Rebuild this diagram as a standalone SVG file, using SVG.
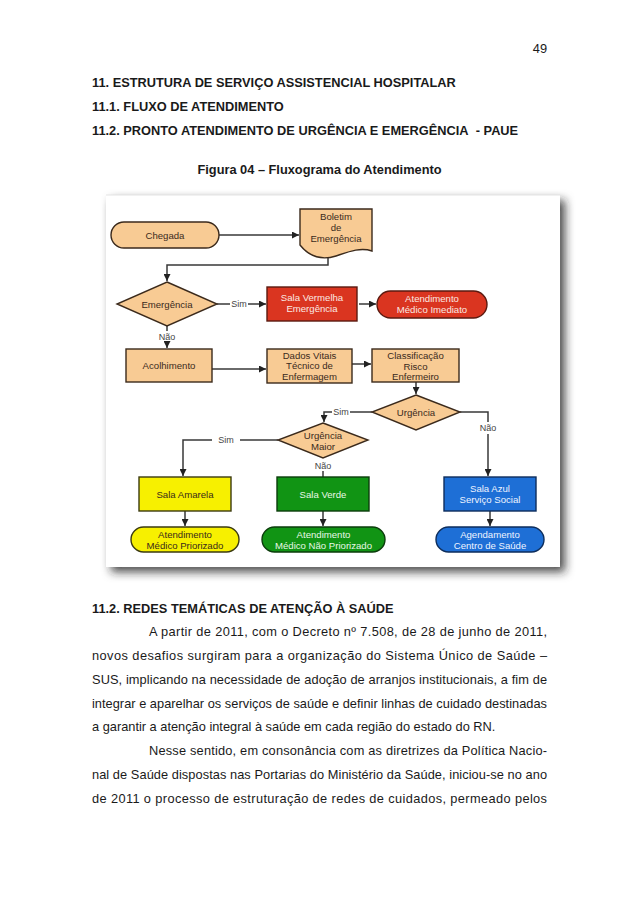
<svg xmlns="http://www.w3.org/2000/svg" width="638" height="903" viewBox="0 0 638 903">
<style>
.pg{font-family:"Liberation Sans",Arial,sans-serif;font-size:12.8px;fill:#1a1a1a}
.b{font-weight:bold}
.fc{font-family:"Liberation Sans",Arial,sans-serif;font-size:9.6px;text-anchor:middle;fill:#3a2a1c}
.lbl{font-family:"Liberation Sans",Arial,sans-serif;font-size:9px;text-anchor:middle;fill:#444}
.beige{fill:#F8CB94;stroke:#3b2a1c;stroke-width:1.4}
.red{fill:#DA3520;stroke:#5a1a10;stroke-width:1.4}
.yel{fill:#F7F000;stroke:#3b3a10;stroke-width:1.4}
.grn{fill:#119414;stroke:#0b3d0b;stroke-width:1.4}
.blu{fill:#1E6FD6;stroke:#0d2d5c;stroke-width:1.4}
.wt{fill:#fbe9e2}
.gt{fill:#e8f7e6}
.bt{fill:#eef4ff}
.con{fill:none;stroke:#383838;stroke-width:1.5}
</style>
<defs>
<marker id="ah" markerUnits="userSpaceOnUse" markerWidth="8" markerHeight="7" refX="7" refY="3.5" orient="auto">
<path d="M0,0 L7,3.5 L0,7 Z" fill="#222"/>
</marker>
<filter id="sh" x="-10%" y="-10%" width="125%" height="125%">
<feDropShadow dx="5" dy="5" stdDeviation="5" flood-color="#222" flood-opacity="0.8"/>
</filter>
</defs>
<rect width="638" height="903" fill="#ffffff"/>

<!-- page text -->
<text class="pg" x="547" y="53" text-anchor="end">49</text>
<text class="pg b" x="92" y="87">11. ESTRUTURA DE SERVIÇO ASSISTENCIAL HOSPITALAR</text>
<text class="pg b" x="92" y="111">11.1. FLUXO DE ATENDIMENTO</text>
<text class="pg b" x="92" y="135">11.2. PRONTO ATENDIMENTO DE URGÊNCIA E EMERGÊNCIA&#160; - PAUE</text>
<text class="pg b" x="319.5" y="174" text-anchor="middle">Figura 04 – Fluxograma do Atendimento</text>

<!-- figure frame -->
<rect x="106" y="195" width="454" height="372" fill="#ffffff" filter="url(#sh)"/>
<line x1="106" y1="195" x2="560" y2="195" stroke="#e4e4e4" stroke-width="1"/>

<!-- connectors -->
<g id="connectors">
<path class="con" d="M219,235 H299" marker-end="url(#ah)"/>
<path class="con" d="M328,256 V265 H167 V281" marker-end="url(#ah)"/>
<path class="con" d="M217,304 H230"/>
<path class="con" d="M248,304 H266" marker-end="url(#ah)"/>
<path class="con" d="M359,304 H376" marker-end="url(#ah)"/>
<path class="con" d="M167,326 V331"/>
<path class="con" d="M167,342 V348" marker-end="url(#ah)"/>
<path class="con" d="M212,369 H266" marker-end="url(#ah)"/>
<path class="con" d="M352,364 H371" marker-end="url(#ah)"/>
<path class="con" d="M416,382 V394" marker-end="url(#ah)"/>
<path class="con" d="M372,412 H350"/>
<path class="con" d="M332,412 H324 V422" marker-end="url(#ah)"/>
<path class="con" d="M460,412 H488 V422"/>
<path class="con" d="M488,434 V476" marker-end="url(#ah)"/>
<path class="con" d="M278,440 H240"/>
<path class="con" d="M212,440 H183 V476" marker-end="url(#ah)"/>
<path class="con" d="M323,471 V477"/>
<path class="con" d="M185,511 V526" marker-end="url(#ah)"/>
<path class="con" d="M323,511 V526" marker-end="url(#ah)"/>
<path class="con" d="M490,511 V526" marker-end="url(#ah)"/>
<text class="lbl" x="239" y="307">Sim</text>
<text class="lbl" x="167" y="340">Não</text>
<text class="lbl" x="341" y="415">Sim</text>
<text class="lbl" x="488" y="431">Não</text>
<text class="lbl" x="226" y="443">Sim</text>
<text class="lbl" x="323" y="469">Não</text>
</g>

<!-- nodes -->
<g id="chegada">
<rect class="beige" x="111" y="222" width="108" height="26" rx="13"/>
<text class="fc" x="165" y="238.5">Chegada</text>
</g>
<g id="boletim">
<path class="beige" d="M300,209 H372 V251 C360,247 348,252 336,256 C320,261 308,255 300,245 Z"/>
<text class="fc" x="336" y="220">Boletim</text>
<text class="fc" x="336" y="230.5">de</text>
<text class="fc" x="336" y="241.5">Emergência</text>
</g>
<g id="emergencia">
<polygon class="beige" points="167,282 217,304 167,326 117,304"/>
<text class="fc" x="167" y="307.5">Emergência</text>
</g>
<g id="sala-vermelha">
<rect class="red" x="267" y="287" width="90" height="34"/>
<text class="fc wt" x="312" y="301">Sala Vermelha</text>
<text class="fc wt" x="312" y="312">Emergência</text>
</g>
<g id="atend-imediato">
<rect class="red" x="377" y="291" width="110" height="27" rx="13.5"/>
<text class="fc wt" x="432" y="302">Atendimento</text>
<text class="fc wt" x="432" y="313">Médico Imediato</text>
</g>
<g id="acolhimento">
<rect class="beige" x="126" y="349" width="86" height="33"/>
<text class="fc" x="169" y="369">Acolhimento</text>
</g>
<g id="dados-vitais">
<rect class="beige" x="267" y="349" width="85" height="34"/>
<text class="fc" x="309.5" y="358.5">Dados Vitais</text>
<text class="fc" x="309.5" y="369">Técnico de</text>
<text class="fc" x="309.5" y="379.5">Enfermagem</text>
</g>
<g id="classificacao">
<rect class="beige" x="372" y="349" width="87" height="33"/>
<text class="fc" x="415.5" y="358.5">Classificação</text>
<text class="fc" x="415.5" y="369.5">Risco</text>
<text class="fc" x="415.5" y="380">Enfermeiro</text>
</g>
<g id="urgencia">
<polygon class="beige" points="416,395 460,412 416,430 372,412"/>
<text class="fc" x="416" y="415.5">Urgência</text>
</g>
<g id="urgencia-maior">
<polygon class="beige" points="323,423 368,440 323,458 278,440"/>
<text class="fc" x="323" y="439">Urgência</text>
<text class="fc" x="323" y="449.5">Maior</text>
</g>
<g id="sala-amarela">
<rect class="yel" x="139" y="477" width="92" height="34"/>
<text class="fc" x="185" y="497.5">Sala Amarela</text>
</g>
<g id="sala-verde">
<rect class="grn" x="277" y="477" width="92" height="34"/>
<text class="fc gt" x="323" y="497.5">Sala Verde</text>
</g>
<g id="sala-azul">
<rect class="blu" x="444" y="477" width="92" height="34"/>
<text class="fc bt" x="490" y="492">Sala Azul</text>
<text class="fc bt" x="490" y="502.5">Serviço Social</text>
</g>
<g id="atend-priorizado">
<rect class="yel" x="131" y="527" width="108" height="25" rx="12.5"/>
<text class="fc" x="185" y="538">Atendimento</text>
<text class="fc" x="185" y="549">Médico Priorizado</text>
</g>
<g id="atend-nao-priorizado">
<rect class="grn" x="262" y="527" width="123" height="25" rx="12.5"/>
<text class="fc gt" x="323.5" y="538">Atendimento</text>
<text class="fc gt" x="323.5" y="549">Médico Não Priorizado</text>
</g>
<g id="agendamento">
<rect class="blu" x="436" y="527" width="108" height="25" rx="12.5"/>
<text class="fc bt" x="490" y="538">Agendamento</text>
<text class="fc bt" x="490" y="549">Centro de Saúde</text>
</g>

<!-- section text -->
<text class="pg b" x="92" y="613">11.2. REDES TEMÁTICAS DE ATENÇÃO À SAÚDE</text>
<text class="pg" x="149" y="636" textLength="398" lengthAdjust="spacing">A partir de 2011, com o Decreto nº 7.508, de 28 de junho de 2011,</text>
<text class="pg" x="92" y="660" textLength="455" lengthAdjust="spacing">novos desafios surgiram para a organização do Sistema Único de Saúde –</text>
<text class="pg" x="92" y="684" textLength="455" lengthAdjust="spacing">SUS, implicando na necessidade de adoção de arranjos institucionais, a fim de</text>
<text class="pg" x="92" y="708" textLength="455" lengthAdjust="spacing">integrar e aparelhar os serviços de saúde e definir linhas de cuidado destinadas</text>
<text class="pg" x="92" y="731">a garantir a atenção integral à saúde em cada região do estado do RN.</text>
<text class="pg" x="149" y="755" textLength="398" lengthAdjust="spacing">Nesse sentido, em consonância com as diretrizes da Política Nacio-</text>
<text class="pg" x="92" y="779" textLength="455" lengthAdjust="spacing">nal de Saúde dispostas nas Portarias do Ministério da Saúde, iniciou-se no ano</text>
<text class="pg" x="92" y="803" textLength="455" lengthAdjust="spacing">de 2011 o processo de estruturação de redes de cuidados, permeado pelos</text>
</svg>
